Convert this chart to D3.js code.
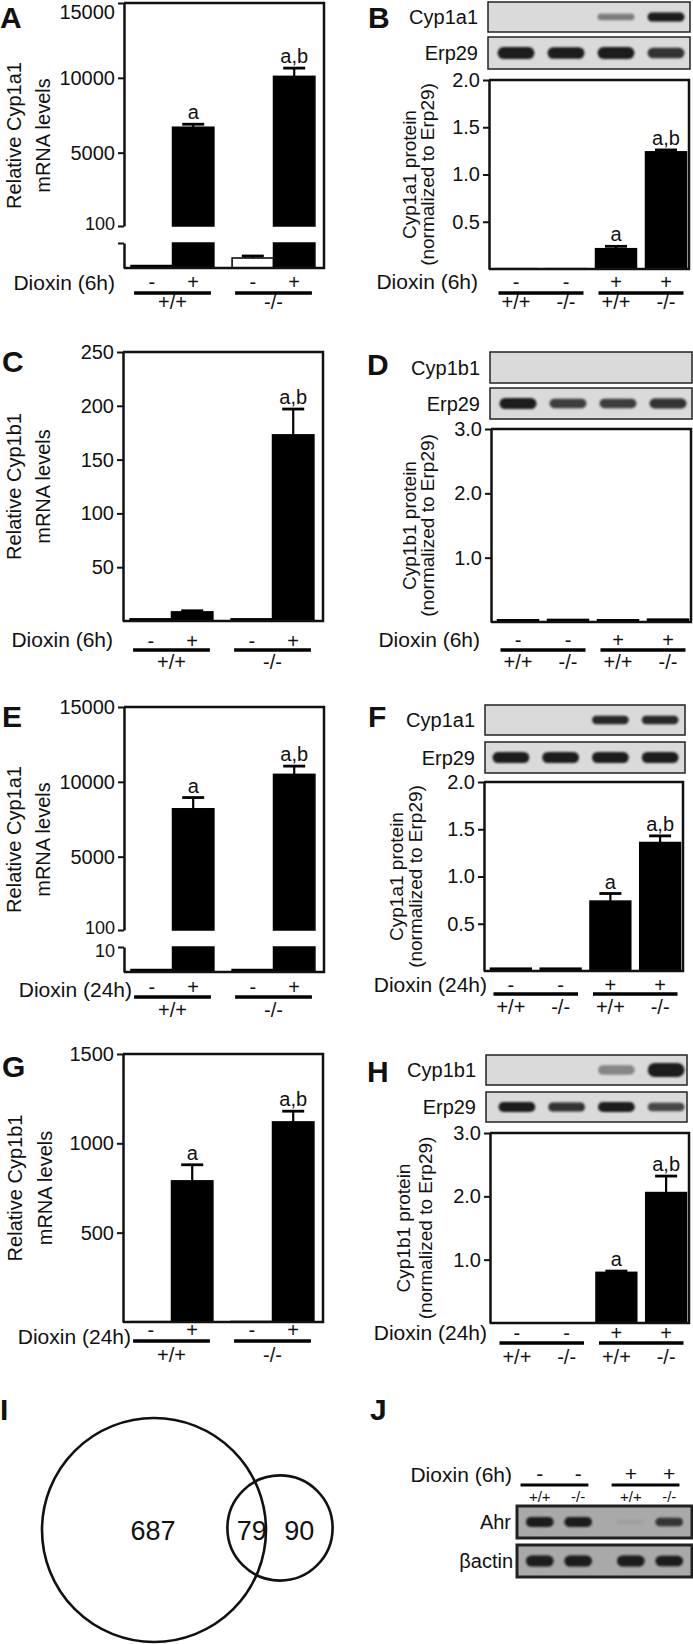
<!DOCTYPE html>
<meta charset="utf-8">
<script src="https://d3js.org/d3.v7.min.js"></script>
<style>
  body { margin: 0; background: #fff; }
  text { font-family: "Liberation Sans", Arial, Helvetica, sans-serif; fill: #111; }
</style>
<div id="fig"></div>
<script>
// ---- lanes ----
var mrnaGeno = ["+/+", "+/+", "-/-", "-/-"];
var mrnaDiox = ["-", "+", "-", "+"];
var protGeno = ["+/+", "-/-", "+/+", "-/-"];
var protDiox = ["-", "-", "+", "+"];
var genotypes = ["+/+", "-/-"];

// A: Cyp1a1 mRNA, dioxin 6h
var aMean = [1, 6700, 4, 10100];
var aErr = [0, 200, 0.8, 550];
var aSig = ["", "a", "", "a,b"];
var aTicks = [100, 5000, 10000, 15000];

// B: Cyp1a1 protein, 6h
var bMean = [0.004, 0.004, 0.215, 1.24];
var bErr = [0, 0, 0.025, 0.02];
var bSig = ["", "", "a", "a,b"];
var bTicks = [0.5, 1.0, 1.5, 2.0];
var bBandCyp = [0, 0, 0.45, 1];
var bBandErp = [1, 0.95, 1, 0.8];

// C: Cyp1b1 mRNA, 6h
var cMean = [2, 8.5, 2, 173];
var cErr = [0.3, 1, 0.3, 24];
var cSig = ["", "", "", "a,b"];
var cTicks = [50, 100, 150, 200, 250];

// D: Cyp1b1 protein, 6h
var dMean = [0.035, 0.04, 0.035, 0.045];
var dErr = [0, 0, 0, 0];
var dSig = ["", "", "", ""];
var dTicks = [1, 2, 3];
var dBandCyp = [0, 0, 0, 0];
var dBandErp = [1, 0.75, 0.75, 0.8];

// E: Cyp1a1 mRNA, 24h
var eMean = [1, 8200, 1, 10500];
var eErr = [0, 750, 0, 550];
var eSig = ["", "a", "", "a,b"];
var eTicks = [100, 5000, 10000, 15000];

// F: Cyp1a1 protein, 24h
var fMean = [0.03, 0.03, 0.74, 1.36];
var fErr = [0, 0, 0.08, 0.07];
var fSig = ["", "", "a", "a,b"];
var fTicks = [0.5, 1.0, 1.5, 2.0];
var fBandCyp = [0, 0, 0.85, 0.85];
var fBandErp = [1, 1, 1, 1];

// G: Cyp1b1 mRNA, 24h
var gMean = [2, 790, 3, 1120];
var gErr = [0, 90, 0, 60];
var gSig = ["", "a", "", "a,b"];
var gTicks = [500, 1000, 1500];

// H: Cyp1b1 protein, 24h
var hMean = [0.004, 0.004, 0.8, 2.06];
var hErr = [0, 0, 0.02, 0.26];
var hSig = ["", "", "a", "a,b"];
var hTicks = [1, 2, 3];
var hBandCyp = [0, 0, 0.4, 1];
var hBandErp = [1, 0.8, 1, 0.7];

// I: Venn counts (only set 1, overlap, only set 2)
var vennCounts = [687, 79, 90];

// J: Ahr blot, dioxin 6h
var jDiox = ["-", "-", "+", "+"];
var jGeno = ["+/+", "-/-", "+/+", "-/-"];
var jBandAhr = [1, 1, 0.05, 0.75];
var jBandActin = [1, 1, 1, 0.95];

var svg = d3.select("#fig").append("svg").attr("width", 693).attr("height", 1644);
svg.append("defs").append("filter").attr("id", "blur")
  .attr("x", "-20%").attr("y", "-60%").attr("width", "140%").attr("height", "220%")
  .append("feGaussianBlur").attr("stdDeviation", 1.2);

function panelLetter(t, x, y) {
  svg.append("text").attr("x", x).attr("y", y).text(t)
    .style("font-size", "30px").style("font-weight", "bold");
}

function yTitle(lines, xs, cy, size) {
  lines.forEach(function(s, i) {
    svg.append("text")
      .attr("transform", "translate(" + xs[i] + "," + cy + ") rotate(-90)")
      .attr("text-anchor", "middle").style("font-size", size + "px").text(s);
  });
}

function mrnaX(x0, x1) {
  var g = d3.scaleBand().domain(genotypes).range([x0, x1]).paddingInner(0.18).paddingOuter(0.08);
  var inner = d3.scaleBand().domain(["-", "+"]).range([0, g.bandwidth()]);
  return { pos: function(i) { return g(mrnaGeno[i]) + inner(mrnaDiox[i]); }, bw: inner.bandwidth() };
}
function protX(x0, x1) {
  var s = d3.scaleBand().domain(d3.range(4)).range([x0, x1]).paddingInner(0.18).paddingOuter(0.09);
  return { pos: function(i) { return s(i); }, bw: s.bandwidth() };
}

function styleAxis(sel, size) {
  sel.attr("font-family", null).attr("font-size", null);
  sel.select(".domain").attr("stroke", "#111").attr("stroke-width", 2.5);
  sel.selectAll(".tick line").attr("stroke", "#111").attr("stroke-width", 2);
  sel.selectAll(".tick text").style("font-size", size + "px").attr("fill", "#111");
}

function barChart(c) {
  var g = svg.append("g");
  var xs = c.kind === "mrna" ? mrnaX(c.x0 - 1, c.x1 - 1) : protX(c.x0 + 2, c.x1 + 2);
  var yHi, yLo = null;
  if (c.brk) {
    yHi = d3.scaleLinear().domain(c.domain).range([c.brk[0], c.y0]);
    yLo = d3.scaleLinear().domain(c.loDomain).range([c.y1, c.brk[1]]);
  } else {
    yHi = d3.scaleLinear().domain(c.domain).range([c.y1, c.y0]);
  }

  c.mean.forEach(function(v, i) {
    var e = c.err[i], bx = xs.pos(i), bw = xs.bw;
    var fill = (c.open && c.open.indexOf(i) >= 0) ? "#fff" : "#000";
    var topY, errY;
    if (yLo) {
      var yl = yLo(Math.min(v, c.loDomain[1]));
      g.append("rect").attr("x", bx).attr("y", yl).attr("width", bw).attr("height", c.y1 - yl)
        .attr("fill", fill).attr("stroke", "#000").attr("stroke-width", 1.5);
      if (v > c.domain[0]) {
        var yh = yHi(v);
        g.append("rect").attr("x", bx).attr("y", yh).attr("width", bw).attr("height", c.brk[0] - yh)
          .attr("fill", fill).attr("stroke", "#000").attr("stroke-width", 1.5);
        topY = yh; errY = yHi(v + e);
      } else {
        topY = yl; errY = yLo(v + e);
      }
    } else {
      topY = yHi(v); errY = yHi(v + e);
      g.append("rect").attr("x", bx).attr("y", topY).attr("width", bw).attr("height", c.y1 - topY)
        .attr("fill", fill).attr("stroke", "#000").attr("stroke-width", 1.5);
    }
    var cx = bx + bw / 2;
    if (e > 0 && topY - errY > 1) {
      g.append("line").attr("x1", cx).attr("x2", cx).attr("y1", topY).attr("y2", errY)
        .attr("stroke", "#000").attr("stroke-width", 2.2);
      g.append("line").attr("x1", cx - 11).attr("x2", cx + 11).attr("y1", errY).attr("y2", errY)
        .attr("stroke", "#000").attr("stroke-width", 2.8);
    }
    if (c.sig[i]) {
      g.append("text").attr("x", cx).attr("y", errY - 5).attr("text-anchor", "middle")
        .style("font-size", "20px").text(c.sig[i]);
    }
  });

  // axes
  var ax = g.append("g").attr("transform", "translate(" + c.x0 + ",0)")
    .call(d3.axisLeft(yHi).tickValues(c.ticks).tickFormat(c.fmt).tickSize(6).tickSizeOuter(0).tickPadding(3));
  styleAxis(ax, 20);
  ax.selectAll(".tick text").filter(function(d) { return yHi(d) < 9; }).attr("dy", "0.75em");
  if (yLo) {
    // the two labels at the break sit close together: make them a bit smaller
    ax.selectAll(".tick text").filter(function(d) { return d === c.domain[0]; })
      .style("font-size", "18px").attr("dy", "0.2em");
    var ax2 = g.append("g").attr("transform", "translate(" + c.x0 + ",0)")
      .call(d3.axisLeft(yLo).tickValues(c.loTicks).tickFormat(c.loFmt).tickSize(6).tickSizeOuter(0).tickPadding(3));
    styleAxis(ax2, 18);
    ax2.selectAll(".tick text").attr("dy", "0.5em");
  }
  // frame: top, right, bottom
  g.append("path").attr("d", "M" + c.x0 + "," + c.y0 + "H" + c.x1 + "V" + c.y1 + "H" + c.x0)
    .attr("fill", "none").attr("stroke", "#111").attr("stroke-width", 2.5);

  yTitle(c.title, c.titleX, (c.y0 + c.y1) / 2, c.titleSize);

  // treatment rows
  var r = c.rows;
  g.append("text").attr("x", c.labelX).attr("y", r[0]).attr("dy", "0.35em").attr("text-anchor", "end")
    .style("font-size", "21px").text(c.label);
  var diox = c.kind === "mrna" ? mrnaDiox : protDiox;
  var geno = c.kind === "mrna" ? mrnaGeno : protGeno;
  diox.forEach(function(s, i) {
    g.append("text").attr("x", xs.pos(i) + xs.bw / 2).attr("y", r[1]).attr("dy", "0.35em")
      .attr("text-anchor", "middle").style("font-size", "20px").text(s);
  });
  var groupKey = c.kind === "mrna" ? geno : diox;
  d3.groups(d3.range(4), function(i) { return groupKey[i]; }).forEach(function(gr) {
    var idx = gr[1];
    var gx0 = xs.pos(idx[0]) + 3, gx1 = xs.pos(idx[idx.length - 1]) + xs.bw - 3;
    g.append("line").attr("x1", gx0).attr("x2", gx1).attr("y1", r[2]).attr("y2", r[2])
      .attr("stroke", "#000").attr("stroke-width", 3.5);
    if (c.kind === "mrna") {
      g.append("text").attr("x", (gx0 + gx1) / 2).attr("y", r[3]).attr("dy", "0.35em")
        .attr("text-anchor", "middle").style("font-size", "20px").text(gr[0]);
    }
  });
  if (c.kind !== "mrna") {
    geno.forEach(function(s, i) {
      g.append("text").attr("x", xs.pos(i) + xs.bw / 2).attr("y", r[3]).attr("dy", "0.35em")
        .attr("text-anchor", "middle").style("font-size", "20px").text(s);
    });
  }
  return xs;
}

function blot(label, lanePos, bw, bx0, bx1, yTop, h, intens, bandH, opt) {
  opt = opt || {};
  svg.append("rect").attr("x", bx0).attr("y", yTop).attr("width", bx1 - bx0).attr("height", h)
    .attr("fill", opt.bg || "#dadada").attr("stroke", "#222").attr("stroke-width", opt.sw || 1.5);
  intens.forEach(function(v, i) {
    if (v < 0.02) return;
    var hh = bandH * (0.45 + 0.55 * v);
    var cx = lanePos(i) + bw / 2, w = bw * 0.9;
    svg.append("rect").attr("x", cx - w / 2).attr("y", yTop + h / 2 - hh / 2)
      .attr("width", w).attr("height", hh).attr("rx", hh / 2)
      .attr("fill", "#1c1c1c").attr("opacity", Math.min(1, 1.1 * v))
      .attr("filter", "url(#blur)");
  });
  svg.append("text").attr("x", opt.labelX || bx0 - 10).attr("y", yTop + h / 2).attr("dy", "0.35em")
    .attr("text-anchor", "end").style("font-size", "20px").text(label);
}

var f1 = d3.format(".1f"), f0 = d3.format("d");

// ---- A ----
panelLetter("A", 0, 28);
barChart({ kind: "mrna", x0: 124, x1: 324, y0: 3, y1: 268, brk: [226, 243],
  domain: [100, 15000], loDomain: [0, 10], loTicks: [10], loFmt: function() { return ""; },
  ticks: aTicks, fmt: f0, mean: aMean, err: aErr, sig: aSig, open: [2],
  title: ["Relative Cyp1a1", "mRNA levels"], titleX: [21, 50], titleSize: 20,
  label: "Dioxin (6h)", labelX: 115, rows: [283, 282, 293, 302] });

// ---- B ----
panelLetter("B", 368, 28);
var xsB = barChart({ kind: "prot", x0: 489, x1: 689, y0: 80, y1: 269,
  domain: [0, 2], ticks: bTicks, fmt: f1, mean: bMean, err: bErr, sig: bSig,
  title: ["Cyp1a1 protein", "(normalized to Erp29)"], titleX: [416, 434], titleSize: 19,
  label: "Dioxin (6h)", labelX: 478, rows: [282, 282, 293, 302] });
blot("Cyp1a1", xsB.pos, xsB.bw, 488, 690, 2, 30, bBandCyp, 9);
blot("Erp29", xsB.pos, xsB.bw, 488, 690, 37, 32, bBandErp, 12);

// ---- C ----
panelLetter("C", 2, 372);
barChart({ kind: "mrna", x0: 123, x1: 323, y0: 352, y1: 621,
  domain: [0, 250], ticks: cTicks, fmt: f0, mean: cMean, err: cErr, sig: cSig,
  title: ["Relative Cyp1b1", "mRNA levels"], titleX: [21, 50], titleSize: 20,
  label: "Dioxin (6h)", labelX: 113, rows: [640, 641, 650, 662] });

// ---- D ----
panelLetter("D", 367, 375);
var xsD = barChart({ kind: "prot", x0: 491, x1: 691, y0: 429, y1: 622,
  domain: [0, 3], ticks: dTicks, fmt: f1, mean: dMean, err: dErr, sig: dSig,
  title: ["Cyp1b1 protein", "(normalized to Erp29)"], titleX: [416, 434], titleSize: 19,
  label: "Dioxin (6h)", labelX: 480, rows: [640, 640, 650, 662] });
blot("Cyp1b1", xsD.pos, xsD.bw, 490, 692, 352, 31, dBandCyp, 9);
blot("Erp29", xsD.pos, xsD.bw, 490, 692, 388, 31, dBandErp, 11);

// ---- E ----
panelLetter("E", 2, 727);
barChart({ kind: "mrna", x0: 124, x1: 324, y0: 707, y1: 972, brk: [930, 947],
  domain: [100, 15000], loDomain: [0, 10], loTicks: [10], loFmt: f0,
  ticks: eTicks, fmt: f0, mean: eMean, err: eErr, sig: eSig,
  title: ["Relative Cyp1a1", "mRNA levels"], titleX: [21, 50], titleSize: 20,
  label: "Dioxin (24h)", labelX: 132, rows: [990, 987, 997, 1010] });

// ---- F ----
panelLetter("F", 368, 727);
var xsF = barChart({ kind: "prot", x0: 484, x1: 683, y0: 782, y1: 971,
  domain: [0, 2], ticks: fTicks, fmt: f1, mean: fMean, err: fErr, sig: fSig,
  title: ["Cyp1a1 protein", "(normalized to Erp29)"], titleX: [403, 422], titleSize: 19,
  label: "Dioxin (24h)", labelX: 487, rows: [985, 985, 994, 1007] });
blot("Cyp1a1", xsF.pos, xsF.bw, 485, 685, 705, 30, fBandCyp, 9);
blot("Erp29", xsF.pos, xsF.bw, 485, 685, 742, 31, fBandErp, 11);

// ---- G ----
panelLetter("G", 2, 1077);
barChart({ kind: "mrna", x0: 123, x1: 323, y0: 1054, y1: 1322,
  domain: [0, 1500], ticks: gTicks, fmt: f0, mean: gMean, err: gErr, sig: gSig,
  title: ["Relative Cyp1b1", "mRNA levels"], titleX: [22, 52], titleSize: 20,
  label: "Dioxin (24h)", labelX: 131, rows: [1337, 1330, 1341, 1355] });

// ---- H ----
panelLetter("H", 367, 1082);
var xsH = barChart({ kind: "prot", x0: 490, x1: 689, y0: 1133, y1: 1323,
  domain: [0, 3], ticks: hTicks, fmt: f1, mean: hMean, err: hErr, sig: hSig,
  title: ["Cyp1b1 protein", "(normalized to Erp29)"], titleX: [410, 432], titleSize: 19,
  label: "Dioxin (24h)", labelX: 487, rows: [1333, 1333, 1343, 1357] });
blot("Cyp1b1", xsH.pos, xsH.bw, 486, 687, 1055, 30, hBandCyp, 14);
blot("Erp29", xsH.pos, xsH.bw, 486, 687, 1092, 30, hBandErp, 10);

// ---- I: Venn ----
panelLetter("I", 0, 1420);
var setTotals = [vennCounts[0] + vennCounts[1], vennCounts[1] + vennCounts[2]];
var vr = d3.scaleSqrt().domain([0, d3.max(setTotals)]).range([0, 112]);
var c1 = { x: 154, y: 1530, r: vr(setTotals[0]) };
var c2 = { x: 280, y: 1528, r: vr(setTotals[1]) };
[c1, c2].forEach(function(c) {
  svg.append("circle").attr("cx", c.x).attr("cy", c.y).attr("r", c.r)
    .attr("fill", "none").attr("stroke", "#111").attr("stroke-width", 2.6);
});
var vennX = [c1.x - 1, (c1.x + c1.r + c2.x - c2.r) / 2 + 5, (c1.x + c1.r + c2.x + c2.r) / 2];
vennCounts.forEach(function(v, i) {
  svg.append("text").attr("x", vennX[i]).attr("y", 1531).attr("dy", "0.35em")
    .attr("text-anchor", "middle").style("font-size", "27px").text(v);
});

// ---- J ----
panelLetter("J", 370, 1420);
var jOuter = d3.scaleBand().domain(["-", "+"]).range([512, 685]).paddingInner(0.2).paddingOuter(0.05);
var jInner = d3.scaleBand().domain(genotypes).range([4, jOuter.bandwidth() + 8]).paddingInner(0.2).paddingOuter(0.1);
function jPos(i) { return jOuter(jDiox[i]) + jInner(jGeno[i]); }
svg.append("text").attr("x", 512).attr("y", 1475).attr("dy", "0.35em").attr("text-anchor", "end")
  .style("font-size", "21px").text("Dioxin (6h)");
jDiox.forEach(function(s, i) {
  svg.append("text").attr("x", jPos(i) + jInner.bandwidth() / 2).attr("y", 1474).attr("dy", "0.35em")
    .attr("text-anchor", "middle").style("font-size", "21px").text(s);
  svg.append("text").attr("x", jPos(i) + jInner.bandwidth() / 2).attr("y", 1497).attr("dy", "0.35em")
    .attr("text-anchor", "middle").style("font-size", "15px").text(jGeno[i]);
});
jOuter.domain().forEach(function(k) {
  svg.append("line").attr("x1", jOuter(k) + 4).attr("x2", jOuter(k) + jOuter.bandwidth() - 1)
    .attr("y1", 1485).attr("y2", 1485).attr("stroke", "#000").attr("stroke-width", 3);
});
blot("Ahr", jPos, jInner.bandwidth(), 517, 692, 1506, 32, jBandAhr, 10,
  { bg: "#a9a9a9", sw: 3, labelX: 511 });
blot("\u03b2actin", jPos, jInner.bandwidth(), 517, 692, 1545, 32, jBandActin, 11,
  { bg: "#a9a9a9", sw: 3, labelX: 513 });
</script>
